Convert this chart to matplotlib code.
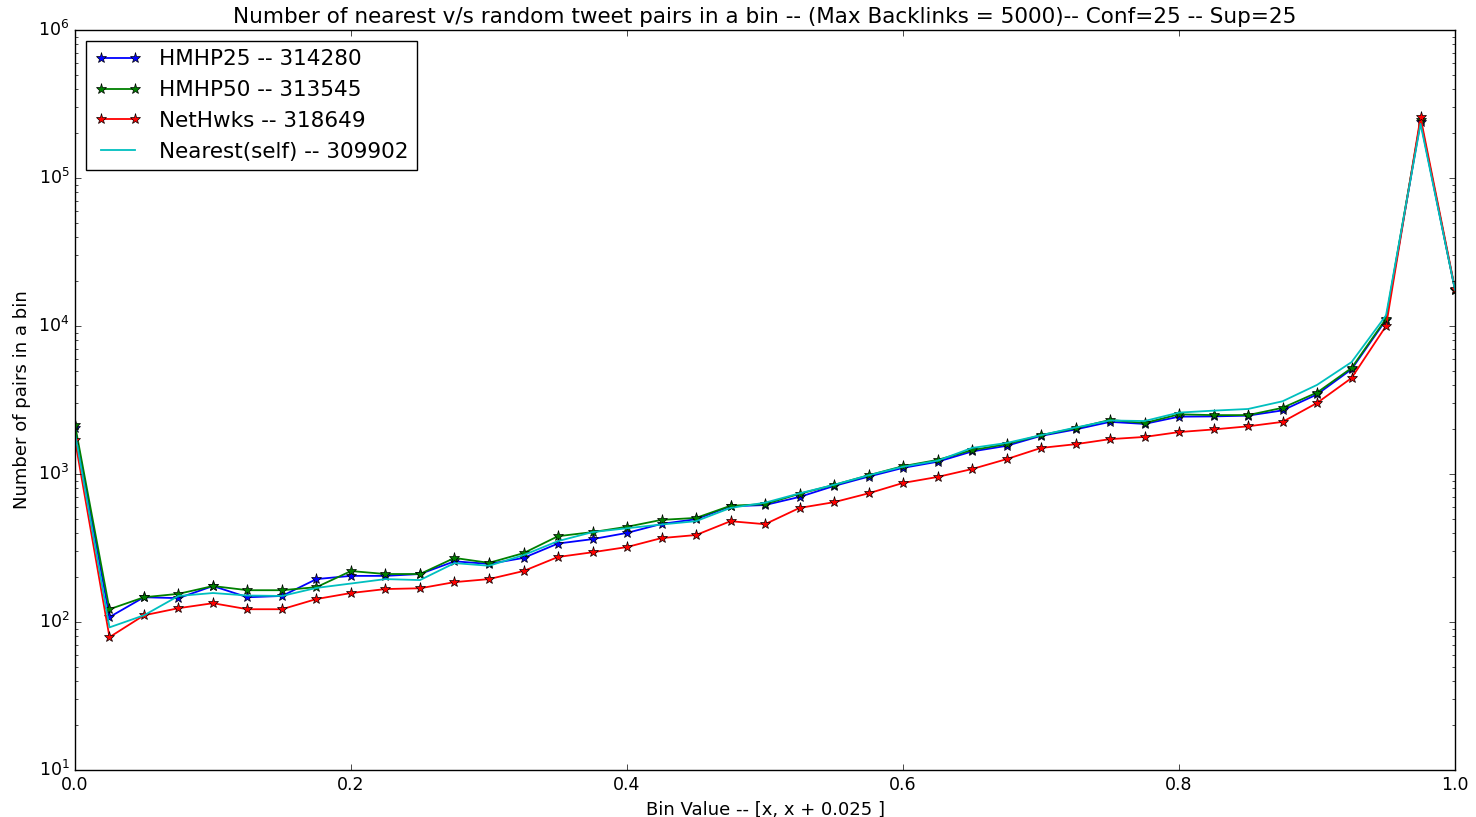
import matplotlib
matplotlib.use("Agg")
import matplotlib.pyplot as plt
import numpy as np

plt.style.use("classic")

bins = [round(0.025 * i, 3) for i in range(41)]

hmhp25 = [2050, 108, 147, 145, 175, 147, 150, 195, 205, 205, 211, 257, 247, 271, 339, 363,
          400, 460, 495, 605, 617, 700, 830, 960, 1100, 1210, 1420, 1550, 1810, 2000, 2250,
          2180, 2440, 2450, 2480, 2690, 3450, 5100, 11000, 240000, 17500]
hmhp50 = [2150, 122, 147, 155, 175, 164, 164, 172, 221, 211, 211, 271, 251, 292, 380, 405,
          440, 490, 505, 610, 626, 735, 844, 980, 1130, 1245, 1450, 1590, 1830, 2040, 2320,
          2210, 2530, 2500, 2500, 2800, 3550, 5200, 11200, 245000, 17500]
nethwks = [1700, 79, 111, 124, 134, 122, 122, 143, 157, 167, 169, 186, 195, 221, 275, 296,
           321, 369, 387, 480, 458, 590, 645, 740, 870, 955, 1080, 1260, 1500, 1590, 1720,
           1780, 1920, 2000, 2100, 2250, 3020, 4450, 10000, 257000, 17800]
nearest = [1900, 92, 111, 150, 157, 151, 150, 170, 182, 195, 192, 250, 240, 283, 352, 405,
           430, 456, 480, 590, 640, 740, 845, 980, 1120, 1230, 1500, 1620, 1830, 2060, 2300,
           2280, 2600, 2680, 2750, 3100, 4000, 5700, 11800, 232000, 17500]

labels = ["HMHP25 -- 314280", "HMHP50 -- 313545", "NetHwks -- 318649", "Nearest(self) -- 309902"]

fig = plt.figure(figsize=(14.76, 8.17), dpi=100, facecolor="white")
ax = fig.add_axes([0.0508, 0.0575, 0.9350, 0.9058])

lw = 1.3
ax.plot(bins, hmhp25, color="b", lw=lw, marker="*", markersize=8, markeredgecolor="k", markeredgewidth=0.5, label=labels[0])
ax.plot(bins, hmhp50, color="g", lw=lw, marker="*", markersize=8, markeredgecolor="k", markeredgewidth=0.5, label=labels[1])
ax.plot(bins, nethwks, color="r", lw=lw, marker="*", markersize=8, markeredgecolor="k", markeredgewidth=0.5, label=labels[2])
ax.plot(bins, nearest, color="c", lw=lw, label=labels[3])

ax.set_yscale("log")
ax.set_xlim(0, 1)
ax.set_ylim(10, 1e6)
ax.set_xticks([0, 0.2, 0.4, 0.6, 0.8, 1.0])
ax.tick_params(labelsize=12.5)

ax.set_title("Number of nearest v/s random tweet pairs in a bin -- (Max Backlinks = 5000)-- Conf=25 -- Sup=25", fontsize=15.5)
ax.set_xlabel("Bin Value -- [x, x + 0.025 ]", fontsize=13)
ax.set_ylabel("Number of pairs in a bin", fontsize=13)

ax.legend(loc="upper left", fontsize=15.5, numpoints=2, handlelength=2.2)

fig.savefig("out.png", dpi=100, facecolor="white")
